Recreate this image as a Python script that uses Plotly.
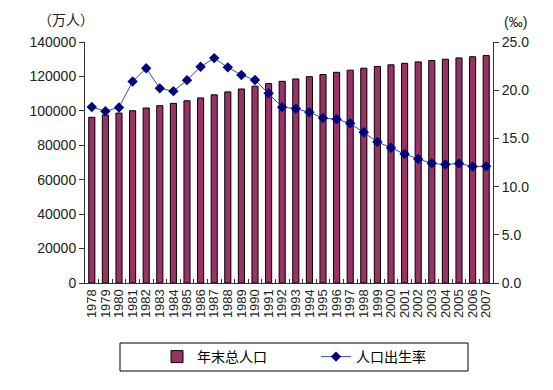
import plotly.graph_objects as go

years = [str(y) for y in range(1978, 2008)]
population = [96259, 97542, 98705, 100072, 101654, 103008, 104357, 105851, 107507, 109300,
              111026, 112704, 114333, 115823, 117171, 118517, 119850, 121121, 122389, 123626,
              124761, 125786, 126743, 127627, 128453, 129227, 129988, 130756, 131448, 132129]
birth_rate = [18.25, 17.82, 18.21, 20.91, 22.28, 20.19, 19.90, 21.04, 22.43, 23.33,
              22.37, 21.58, 21.06, 19.68, 18.24, 18.09, 17.70, 17.12, 16.98, 16.57,
              15.64, 14.64, 14.03, 13.38, 12.86, 12.41, 12.29, 12.40, 12.09, 12.10]

FONT = "Liberation Sans, Arial, Noto Sans CJK SC"
W, H = 553, 390
L, R, T, B = 85, 60, 42, 107
PW, PH = W - L - R, H - T - B

fig = go.Figure()
fig.add_trace(go.Bar(
    x=years, y=population, name="年末总人口",
    marker=dict(color="#993366", line=dict(color="#000000", width=1)),
    width=0.45,
))
fig.add_trace(go.Scatter(
    x=years, y=birth_rate, name="人口出生率", yaxis="y2", mode="lines+markers",
    line=dict(color="#4444cc", width=1),
    marker=dict(symbol="diamond", size=8, color="#000080"),
))

fig.update_layout(
    width=W, height=H,
    margin=dict(l=L, r=R, t=T, b=B, pad=0, autoexpand=False),
    paper_bgcolor="white", plot_bgcolor="white",
    font=dict(family=FONT, size=14, color="#222222"),
    showlegend=True,
    legend=dict(orientation="h", xref="container", yref="container",
                x=157 / W, xanchor="left", y=1 - 357 / H, yanchor="middle",
                entrywidth=114, font=dict(size=14, color="#000000"),
                bgcolor="rgba(0,0,0,0)"),
    xaxis=dict(type="category", range=[-0.5, len(years) - 0.5], autorange=False,
               tickangle=-90, tickfont=dict(size=13),
               tickmode="linear", dtick=1, automargin=False,
               showline=True, linecolor="#333333", linewidth=1,
               ticks="inside", ticklen=4, tickcolor="#333333",
               tickson="boundaries", showgrid=False),
    yaxis=dict(range=[0, 140000], dtick=20000, showline=True, linecolor="#333333",
               ticks="outside", ticklen=5, tickcolor="#333333", showgrid=False,
               zeroline=False, tickformat="d", automargin=False),
    yaxis2=dict(range=[0, 25], dtick=5, overlaying="y", side="right", showline=True,
                linecolor="#333333", ticks="outside", ticklen=5, tickcolor="#333333",
                showgrid=False, zeroline=False, tickformat=".1f", automargin=False),
    shapes=[dict(type="rect", xref="paper", yref="paper",
                 x0=(120 - L) / PW, x1=(468 - L) / PW,
                 y0=(H - B - 371) / PH, y1=(H - B - 343) / PH,
                 line=dict(color="#000000", width=1))],
    annotations=[
        dict(text="（万人）", xref="paper", yref="paper", x=(66 - L) / PW, y=(H - B - 20) / PH,
             xanchor="center", yanchor="middle",
             showarrow=False, font=dict(size=14, color="#222222")),
        dict(text="(‰)", xref="paper", yref="paper", x=(515 - L) / PW, y=(H - B - 22) / PH,
             xanchor="center", yanchor="middle",
             showarrow=False, font=dict(size=14, color="#222222")),
    ],
)

fig.write_html("out.html", config={"displayModeBar": False},
               post_script="document.body.style.margin='0';")
